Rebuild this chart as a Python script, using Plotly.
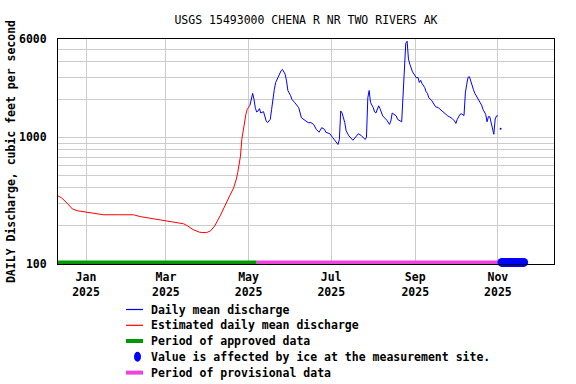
import plotly.graph_objects as go

# ---------------- data ----------------
est_dates = ["2024-12-11", "2024-12-14", "2024-12-18", "2024-12-22", "2024-12-26", "2024-12-30",
             "2025-01-06", "2025-01-14", "2025-01-25", "2025-02-05", "2025-02-10", "2025-02-17",
             "2025-02-24", "2025-03-02", "2025-03-09", "2025-03-14", "2025-03-17", "2025-03-21",
             "2025-03-26", "2025-03-31", "2025-04-03", "2025-04-06", "2025-04-10", "2025-04-14",
             "2025-04-17", "2025-04-20", "2025-04-21", "2025-04-22", "2025-04-23", "2025-04-24",
             "2025-04-25", "2025-04-26", "2025-04-27", "2025-04-28", "2025-04-29", "2025-04-30",
             "2025-05-01", "2025-05-02"]
est_values = [347, 333, 303, 272, 263, 259,
              253, 245, 245, 245, 237, 231,
              223, 219, 213, 208, 200, 187,
              178, 177, 183, 200, 240, 300,
              345, 400, 430, 470, 530, 628,
              711, 964, 1157, 1350, 1522, 1668,
              1720, 1800]

mean_dates = ["2025-05-02", "2025-05-03", "2025-05-04", "2025-05-05", "2025-05-06", "2025-05-07",
              "2025-05-08", "2025-05-09", "2025-05-10", "2025-05-12", "2025-05-13", "2025-05-14",
              "2025-05-15", "2025-05-17", "2025-05-18", "2025-05-19", "2025-05-20", "2025-05-21",
              "2025-05-23", "2025-05-24", "2025-05-25", "2025-05-26", "2025-05-28", "2025-05-29",
              "2025-05-30", "2025-06-01", "2025-06-02", "2025-06-04", "2025-06-07", "2025-06-09",
              "2025-06-12", "2025-06-14", "2025-06-16", "2025-06-18", "2025-06-20", "2025-06-22",
              "2025-06-24", "2025-06-26", "2025-06-27", "2025-06-30", "2025-07-02", "2025-07-05",
              "2025-07-06", "2025-07-07", "2025-07-08", "2025-07-09", "2025-07-11", "2025-07-12",
              "2025-07-14", "2025-07-17", "2025-07-19", "2025-07-21", "2025-07-23", "2025-07-26",
              "2025-07-27", "2025-07-28", "2025-07-29", "2025-07-30", "2025-08-01", "2025-08-02",
              "2025-08-03", "2025-08-05", "2025-08-06", "2025-08-08", "2025-08-11", "2025-08-13",
              "2025-08-14", "2025-08-15", "2025-08-18", "2025-08-19", "2025-08-22", "2025-08-23",
              "2025-08-24", "2025-08-25", "2025-08-26", "2025-08-27", "2025-08-28", "2025-08-29",
              "2025-08-30", "2025-09-01", "2025-09-02", "2025-09-03", "2025-09-04", "2025-09-05",
              "2025-09-06", "2025-09-08", "2025-09-09", "2025-09-10", "2025-09-11", "2025-09-13",
              "2025-09-14", "2025-09-15", "2025-09-16", "2025-09-18", "2025-09-20", "2025-09-23",
              "2025-09-25", "2025-09-28", "2025-09-30", "2025-10-01", "2025-10-02", "2025-10-04",
              "2025-10-05", "2025-10-07", "2025-10-08", "2025-10-09", "2025-10-10", "2025-10-11",
              "2025-10-12", "2025-10-13", "2025-10-14", "2025-10-15", "2025-10-16", "2025-10-18",
              "2025-10-19", "2025-10-20", "2025-10-21", "2025-10-23", "2025-10-24", "2025-10-25",
              "2025-10-26", "2025-10-27", "2025-10-28", "2025-10-29", "2025-10-30", "2025-10-31",
              "2025-11-01"]
mean_values = [1800, 2060, 2230, 2000, 1700, 1590,
               1620, 1690, 1560, 1600, 1430, 1350,
               1310, 1389, 1668, 2060, 2404, 2720,
               3060, 3160, 3370, 3450, 3162, 2800,
               2350, 2140, 2000, 1890, 1720, 1430,
               1350, 1310, 1310, 1268, 1157, 1100,
               1195, 1160, 1100, 1070, 1000, 900,
               880, 964, 1620, 1560, 1310, 1130,
               1030, 950, 1010, 1070, 1040, 964,
               1000, 2060, 2350, 1890, 1720, 1590,
               1560, 1780, 1690, 1480, 1370, 1268,
               1350, 1560, 1480, 1389, 1330, 2350,
               4160, 5550, 5760, 4160, 3800, 3540,
               3300, 3060, 2950, 2990, 2720, 2830,
               2670, 2480, 2300, 2230, 2060, 1970,
               1890, 1780, 1750, 1720, 1650, 1560,
               1480, 1420, 1350, 1290, 1389, 1522,
               1540, 1490, 2250, 2634, 2990, 3020,
               2760, 2530, 2380, 2230, 2140, 2000,
               1890, 1800, 1668, 1522, 1330, 1460,
               1460, 1330, 1150, 1060, 1400, 1480,
               1480]

single_dates = ["2025-11-03"]
single_values = [1170]

ice_dates = ["2025-11-%02d" % d for d in range(4, 21)]
ice_values = [103] * len(ice_dates)

approved_dates = ["2024-12-11", "2025-05-07"]
approved_values = [103, 103]
provisional_dates = ["2025-05-07", "2025-11-22"]
provisional_values = [103, 103]

x_tick_vals = ["2025-01-01", "2025-03-01", "2025-05-01", "2025-07-01", "2025-09-01", "2025-11-01"]
x_tick_text = ["Jan<br>2025", "Mar<br>2025", "May<br>2025", "Jul<br>2025", "Sep<br>2025", "Nov<br>2025"]
y_tick_vals = [100, 1000, 6000]
y_tick_text = ["100", "1000", "6000"]
y_minor_vals = [200, 300, 400, 500, 600, 700, 800, 900, 2000, 3000, 4000, 5000]

legend_labels = ["Daily mean discharge", "Estimated daily mean discharge", "Period of approved data",
                 "Value is affected by ice at the measurement site.", "Period of provisional data"]

BLUE = "#0000ff"
RED = "#ff0000"
GREEN = "#009900"
PINK = "#ee44dd"
FONT = "DejaVu Sans Mono"

fig = go.Figure()
fig.add_trace(go.Scatter(x=approved_dates, y=approved_values, mode="lines",
                         line=dict(color=GREEN, width=4), showlegend=False, cliponaxis=False))
fig.add_trace(go.Scatter(x=provisional_dates, y=provisional_values, mode="lines",
                         line=dict(color=PINK, width=4), showlegend=False, cliponaxis=False))
fig.add_trace(go.Scatter(x=est_dates, y=est_values, mode="lines",
                         line=dict(color=RED, width=1), showlegend=False))
fig.add_trace(go.Scatter(x=mean_dates, y=mean_values, mode="lines",
                         line=dict(color=BLUE, width=1), showlegend=False))
fig.add_trace(go.Scatter(x=single_dates, y=single_values, mode="markers",
                         marker=dict(color=BLUE, size=2), showlegend=False))
fig.add_trace(go.Scatter(x=ice_dates, y=ice_values, mode="markers",
                         marker=dict(color=BLUE, size=9, line=dict(width=0)),
                         showlegend=False, cliponaxis=False))

# manual legend (paper coordinates below the plot)
L, R, T, B = 58, 554, 39, 264
def px(x):
    return (x - L) / (R - L)
def py(y):
    return (B - y) / (B - T)

rows = [309.5, 325.3, 341, 356.8, 372.6]
styles = [("line", BLUE, 1.2), ("line", RED, 1.2), ("line", GREEN, 4), ("dot", BLUE, 0), ("line", PINK, 4)]
shapes = []
annotations = []
for lab, rowy, st in zip(legend_labels, rows, styles):
    kind, col, w = st
    if kind == "line":
        shapes.append(dict(type="line", xref="paper", yref="paper", x0=px(126), x1=px(143),
                           y0=py(rowy), y1=py(rowy), line=dict(color=col, width=w)))
    else:
        shapes.append(dict(type="circle", xref="paper", yref="paper", xsizemode="pixel",
                           ysizemode="pixel", xanchor=px(137.5), yanchor=py(rowy),
                           x0=-3.5, x1=3.5, y0=-5, y1=5, fillcolor=col, line=dict(width=0)))
    annotations.append(dict(text="<b>%s</b>" % lab, xref="paper", yref="paper", x=px(149),
                            y=py(rowy), xanchor="left", yanchor="middle", showarrow=False,
                            font=dict(family=FONT, size=11.5, color="black")))

fig.update_layout(
    width=576, height=384,
    margin=dict(l=L, r=576 - R, t=T, b=384 - B, autoexpand=False),
    paper_bgcolor="white", plot_bgcolor="white",
    showlegend=False,
    title=dict(text="USGS 15493000 CHENA R NR TWO RIVERS AK", x=(L + R) / 2 / 576, xanchor="center",
               y=1 - 20 / 384, yanchor="middle", automargin=False,
               font=dict(family=FONT, size=11.5, color="black")),
    shapes=shapes, annotations=annotations,
)
fig.update_xaxes(
    type="date", range=["2024-12-11 08:00", "2025-12-12 10:00"], automargin=False,
    tickmode="array", tickvals=x_tick_vals, ticktext=["<b>%s</b>" % t for t in x_tick_text],
    tickfont=dict(family=FONT, size=11.5, color="black"),
    showgrid=True, gridcolor="#cccccc", gridwidth=1,
    showline=True, linecolor="black", linewidth=1, mirror=True,
    ticks="", zeroline=False, ticklabelstandoff=2,
)
fig.update_yaxes(
    type="log", range=[2, 3.77815], automargin=False,
    tickmode="array", tickvals=y_tick_vals, ticktext=["<b>%s</b>" % t for t in y_tick_text],
    tickfont=dict(family=FONT, size=11.5, color="black"),
    showgrid=True, gridcolor="#cccccc", gridwidth=1,
    minor=dict(tickmode="array", tickvals=y_minor_vals, showgrid=True, gridcolor="#cccccc",
               gridwidth=1, ticks=""),
    showline=True, linecolor="black", linewidth=1, mirror=True,
    ticks="", zeroline=False, ticklabelstandoff=8,
    title=dict(text="<b>DAILY Discharge, cubic feet per second</b>", standoff=0,
               font=dict(family=FONT, size=11.5, color="black")),
)
fig.write_html("out.html", config={"displayModeBar": False},
               post_script="document.body.style.margin='0px';document.body.style.padding='0px';")
